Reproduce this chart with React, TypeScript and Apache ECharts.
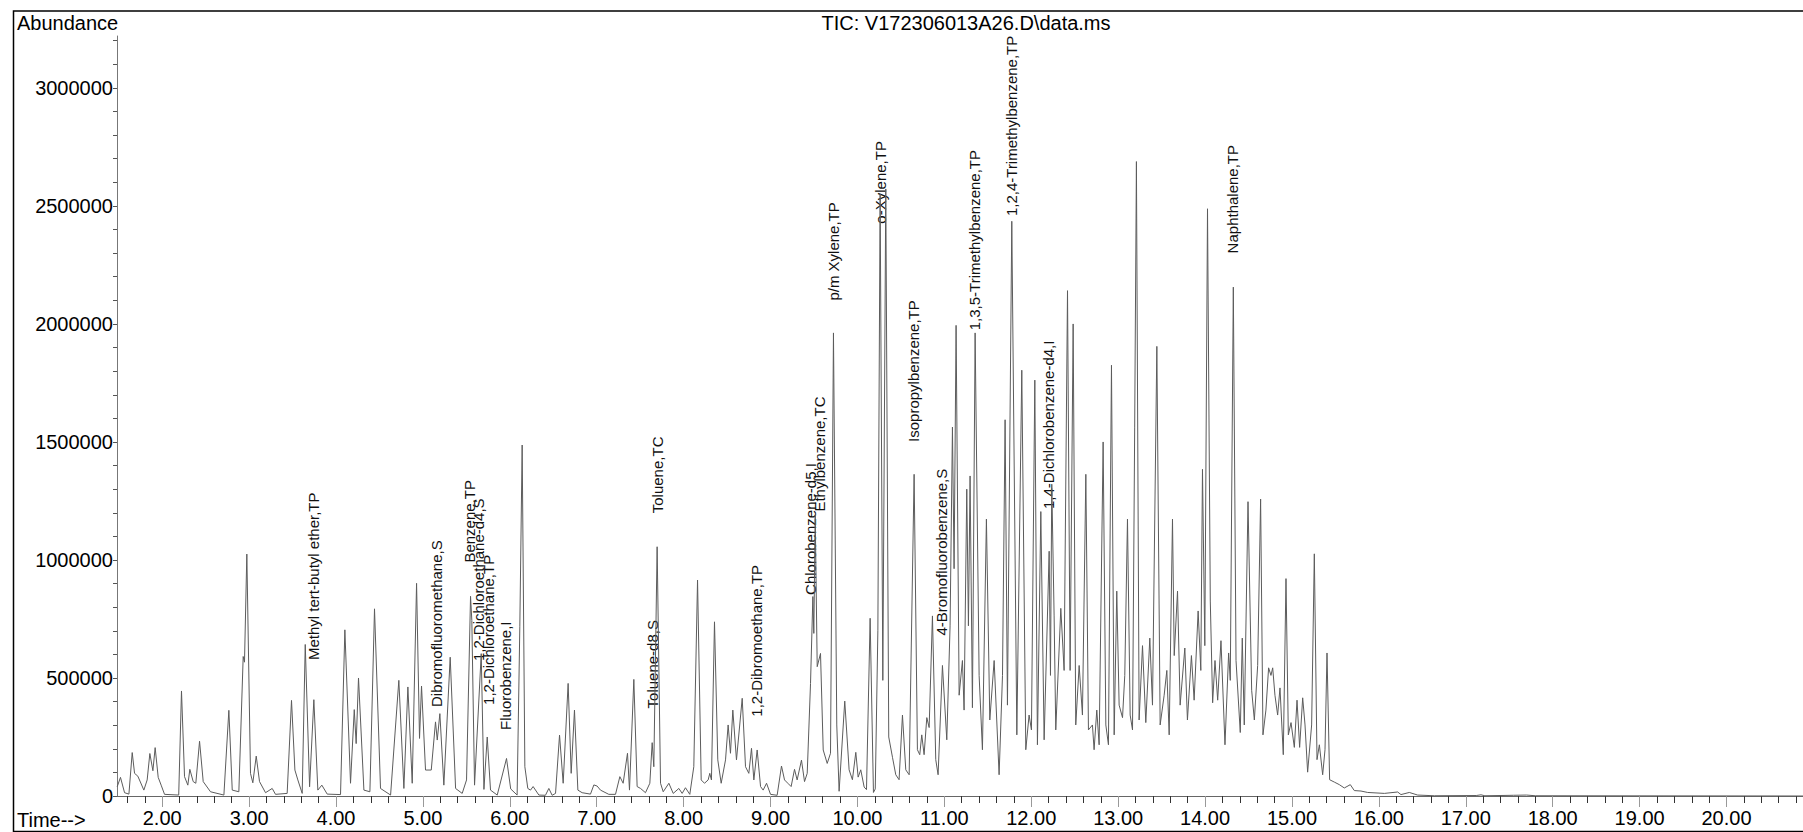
import React, { useEffect, useRef } from "react";
import * as echarts from "echarts";

const FONT = '"Liberation Sans", Arial, Helvetica, sans-serif';

// Total ion chromatogram: [retention time (min), abundance]
const tic_1_5_to_4 = [
  [1.482, 39000], [1.52, 79000], [1.567, 14000], [1.617, 8000], [1.655, 184000], [1.682, 96000],
  [1.72, 84000], [1.789, 25000], [1.827, 68000], [1.858, 180000], [1.893, 107000], [1.919, 205000],
  [1.954, 79000], [1.988, 46000], [2.027, 7000], [2.19, 4000], [2.222, 445000], [2.257, 82000],
  [2.295, 46000], [2.318, 113000], [2.357, 61000], [2.387, 54000], [2.43, 232000], [2.472, 61000],
  [2.556, 18000], [2.71, 4000], [2.767, 363000], [2.806, 25000], [2.882, 18000], [2.932, 591000],
  [2.947, 567000], [2.974, 1025000], [3.016, 96000], [3.043, 56000], [3.082, 169000], [3.12, 61000],
  [3.189, 14000], [3.266, 32000], [3.304, 7000], [3.438, 11000], [3.488, 405000], [3.527, 110000],
  [3.561, 68000], [3.611, 11000], [3.646, 642000], [3.696, 39000], [3.745, 408000], [3.791, 25000],
  [3.837, 46000], [3.899, 8000],
];

const tic_4_to_6 = [
  [4.052, 6000], [4.102, 704000], [4.167, 54000], [4.21, 366000], [4.232, 222000], [4.259, 500000],
  [4.321, 25000], [4.39, 18000], [4.443, 793000], [4.512, 32000], [4.628, 4000], [4.723, 490000],
  [4.781, 32000], [4.827, 462000], [4.877, 54000], [4.927, 901000], [4.961, 244000], [4.984, 466000],
  [5.03, 110000], [5.096, 110000], [5.145, 314000], [5.165, 237000], [5.195, 349000], [5.241, 46000],
  [5.314, 588000], [5.376, 32000], [5.452, 11000], [5.502, 68000], [5.548, 846000], [5.563, 743000],
  [5.594, 46000], [5.671, 603000], [5.702, 28000], [5.74, 250000], [5.778, 25000], [5.855, 4000],
  [5.962, 159000],
];

const tic_6_to_8 = [
  [6.01, 30000], [6.084, 4000], [6.115, 717000], [6.142, 1487000], [6.173, 124000], [6.207, 32000],
  [6.238, 25000], [6.268, 40000], [6.334, 4000], [6.41, 3000], [6.449, 32000], [6.487, 3000],
  [6.526, 11000], [6.572, 258000], [6.614, 54000], [6.671, 477000], [6.706, 96000], [6.744, 364000],
  [6.783, 25000], [6.832, 14000], [6.928, 8000], [6.967, 47000], [7.005, 42000], [7.043, 25000],
  [7.139, 7000], [7.216, 7000], [7.266, 82000], [7.304, 54000], [7.354, 181000], [7.377, 25000],
  [7.427, 494000], [7.465, 40000], [7.504, 32000], [7.561, 14000], [7.611, 54000], [7.638, 226000],
  [7.657, 124000], [7.695, 1056000], [7.734, 54000], [7.765, 18000], [7.83, 54000], [7.88, 11000],
  [7.945, 32000], [7.983, 11000],
];

const tic_8_to_9_7 = [
  [8.021, 35000], [8.071, 7000], [8.117, 124000], [8.16, 915000], [8.202, 68000], [8.24, 54000],
  [8.282, 68000], [8.301, 96000], [8.32, 68000], [8.355, 738000], [8.393, 153000], [8.432, 54000],
  [8.482, 153000], [8.512, 301000], [8.539, 181000], [8.566, 364000], [8.608, 153000], [8.674, 414000],
  [8.712, 124000], [8.75, 96000], [8.781, 202000], [8.808, 68000], [8.846, 195000], [8.885, 40000],
  [8.915, 25000], [8.954, 54000], [9.0, 7000], [9.076, 3000], [9.126, 127000], [9.161, 68000],
  [9.199, 54000], [9.237, 40000], [9.276, 113000], [9.306, 68000], [9.356, 152000], [9.391, 61000],
  [9.422, 96000], [9.46, 477000], [9.487, 845000], [9.498, 689000], [9.514, 1190000], [9.537, 548000],
  [9.575, 604000], [9.606, 195000], [9.652, 138000], [9.69, 181000],
];

const tic_9_7_to_11_5 = [
  [9.724, 1962000], [9.762, 301000], [9.789, 20000], [9.854, 402000], [9.904, 111000], [9.942, 69000],
  [9.981, 185000], [10.008, 80000], [10.038, 111000], [10.077, 38000], [10.104, 27000], [10.146, 753000],
  [10.184, 15000], [10.205, 30000], [10.235, 700000], [10.261, 2551000], [10.292, 490000], [10.326, 2572000],
  [10.36, 250000], [10.403, 164000], [10.441, 90000], [10.479, 69000], [10.518, 343000], [10.556, 111000],
  [10.595, 90000], [10.652, 1363000], [10.69, 196000], [10.717, 175000], [10.74, 259000], [10.767, 175000],
  [10.798, 332000], [10.825, 290000], [10.863, 763000], [10.901, 154000], [10.928, 90000], [10.978, 553000],
  [11.028, 238000], [11.066, 721000], [11.093, 1563000], [11.112, 963000], [11.135, 1994000], [11.17, 427000],
  [11.208, 574000], [11.227, 364000], [11.258, 1300000], [11.277, 721000], [11.296, 1356000], [11.323, 374000],
  [11.354, 1962000], [11.4, 511000], [11.438, 196000], [11.484, 1173000],
];

const tic_11_5_to_13_5 = [
  [11.523, 322000], [11.573, 574000], [11.63, 90000], [11.669, 511000], [11.699, 1594000], [11.726, 385000],
  [11.776, 2435000], [11.834, 259000], [11.891, 1804000], [11.937, 196000], [11.975, 343000], [12.002, 280000],
  [12.041, 1762000], [12.071, 217000], [12.11, 1205000], [12.148, 238000], [12.206, 1037000], [12.221, 511000],
  [12.236, 1321000], [12.263, 763000], [12.282, 280000], [12.34, 795000], [12.378, 532000], [12.417, 2141000],
  [12.447, 532000], [12.482, 2000000], [12.512, 301000], [12.551, 553000], [12.589, 343000], [12.628, 1363000],
  [12.658, 280000], [12.704, 301000], [12.723, 196000], [12.754, 364000], [12.781, 217000], [12.827, 1500000],
  [12.858, 301000], [12.888, 217000], [12.923, 1825000], [12.954, 259000], [12.984, 868000], [13.011, 385000],
  [13.05, 332000], [13.076, 511000], [13.107, 1173000], [13.138, 343000], [13.165, 280000], [13.19, 1563000],
  [13.21, 2688000], [13.241, 322000], [13.28, 637000], [13.318, 311000], [13.364, 669000], [13.395, 385000],
  [13.445, 1905000], [13.483, 301000],
];

const tic_13_5_to_15_5 = [
  [13.529, 427000], [13.56, 532000], [13.587, 259000], [13.625, 1173000], [13.645, 595000], [13.683, 868000],
  [13.713, 385000], [13.767, 627000], [13.797, 322000], [13.843, 595000], [13.874, 406000], [13.92, 784000],
  [13.951, 532000], [13.97, 1384000], [13.997, 637000], [14.028, 2488000], [14.06, 826000], [14.087, 395000],
  [14.114, 574000], [14.145, 406000], [14.183, 658000], [14.229, 217000], [14.271, 606000], [14.29, 490000],
  [14.325, 2156000], [14.356, 574000], [14.405, 269000], [14.428, 669000], [14.451, 301000], [14.494, 1247000],
  [14.536, 448000], [14.567, 322000], [14.605, 553000], [14.639, 1258000], [14.666, 259000], [14.7, 364000],
  [14.731, 543000], [14.758, 511000], [14.778, 543000], [14.804, 427000], [14.835, 343000], [14.862, 458000],
  [14.9, 175000], [14.931, 921000], [14.958, 259000], [14.989, 311000], [15.027, 206000], [15.058, 406000],
  [15.088, 206000], [15.123, 416000], [15.15, 301000], [15.18, 101000], [15.226, 301000], [15.257, 1026000],
  [15.288, 154000], [15.315, 217000], [15.353, 90000], [15.38, 196000], [15.403, 606000], [15.433, 69000],
];

const tic_tail = [
  [15.487, 59000], [15.545, 48000], [15.602, 34000], [15.671, 48000], [15.717, 23000], [15.794, 21000],
  [15.871, 15000], [16.063, 11000], [16.216, 17000], [16.254, 6000], [16.35, 15000], [16.446, 4000],
  [16.638, 1000], [17.12, 2000], [17.175, 5000], [17.22, 1000], [17.55, 3000], [17.7, 4000],
  [17.8, 1000], [20.88, 0],
];

// Peak annotations: compound name, retention time, abundance at the label's start
const annotationNames = [
  "Methyl tert-butyl ether,TP", "Dibromofluoromethane,S", "Benzene,TP", "1,2-Dichloroethane-d4,S",
  "1,2-Dichloroethane,TP", "Fluorobenzene,I", "Toluene-d8,S", "Toluene,TC", "1,2-Dibromoethane,TP",
  "Chlorobenzene-d5,I", "Ethylbenzene,TC", "p/m Xylene,TP", "o-Xylene,TP", "Isopropylbenzene,TP",
  "4-Bromofluorobenzene,S", "1,3,5-Trimethylbenzene,TP", "1,2,4-Trimethylbenzene,TP",
  "1,4-Dichlorobenzene-d4,I", "Naphthalene,TP",
];
const annotationTimes = [
  3.745, 5.16, 5.54, 5.64, 5.75, 5.95, 7.638, 7.696, 8.839, 9.46, 9.567, 9.728, 10.266, 10.649,
  10.968, 11.348, 11.773, 12.195, 14.32,
];
const annotationAbundances = [
  576000, 377000, 989000, 572000, 386000, 280000, 371000, 1198000, 336000, 852000, 1205000,
  2099000, 2425000, 1500000, 680000, 1973000, 2457000, 1216000, 2299000,
];

// Axis ticks and labels
const timeLabels = [2, 3, 4, 5, 6, 7, 8, 9, 10, 11, 12, 13, 14, 15, 16, 17, 18, 19, 20];
const abundanceLabels = [0, 500000, 1000000, 1500000, 2000000, 2500000, 3000000];
const TIME_MIN = 1.48;
const TIME_MAX = 20.88;
const ABUNDANCE_MAX = 3220000;
const TIME_MINOR_STEP = 0.2;
const ABUNDANCE_MINOR_STEP = 100000;

export default function App() {
  const ref = useRef<HTMLDivElement>(null);

  useEffect(() => {
    if (!ref.current) return;
    const chart = echarts.init(ref.current, null, { renderer: "svg" });

    const points = [
      ...tic_1_5_to_4, ...tic_4_to_6, ...tic_6_to_8, ...tic_8_to_9_7,
      ...tic_9_7_to_11_5, ...tic_11_5_to_13_5, ...tic_13_5_to_15_5, ...tic_tail,
    ];

    const timeMinorTicks: number[] = [];
    for (let i = Math.ceil(TIME_MIN / TIME_MINOR_STEP); i * TIME_MINOR_STEP <= TIME_MAX; i++) {
      timeMinorTicks.push(Math.round(i * TIME_MINOR_STEP * 10) / 10);
    }
    const abundanceTicks: number[] = [];
    for (let v = 0; v <= ABUNDANCE_MAX; v += ABUNDANCE_MINOR_STEP) abundanceTicks.push(v);

    const staticGraphics: any[] = [
      {
        type: "rect",
        shape: { x: 13.5, y: 11, width: 1800, height: 820.5 },
        style: { fill: "none", stroke: "#000", lineWidth: 1.5 },
        silent: true,
      },
      {
        type: "text", x: 17, y: 23,
        style: { text: "Abundance", font: `20px ${FONT}`, fill: "#000", align: "left", verticalAlign: "middle" },
      },
      {
        type: "text", x: 966, y: 23,
        style: { text: "TIC: V172306013A26.D\\data.ms", font: `20px ${FONT}`, fill: "#000", align: "center", verticalAlign: "middle" },
      },
      {
        type: "text", x: 17, y: 820,
        style: { text: "Time-->", font: `20px ${FONT}`, fill: "#000", align: "left", verticalAlign: "middle" },
      },
    ];

    const option: any = {
      animation: false,
      backgroundColor: "#ffffff",
      grid: { left: 117, right: 0, top: 36, bottom: 36, containLabel: false },
      xAxis: [
        {
          type: "value",
          min: TIME_MIN,
          max: TIME_MAX,
          position: "bottom",
          axisLine: { show: true, onZero: false, lineStyle: { color: "#666", width: 1 } },
          axisTick: { show: true, length: 7, customValues: timeMinorTicks, lineStyle: { color: "#333", width: 1 } },
          axisLabel: {
            show: true,
            customValues: timeLabels,
            formatter: (v: number) => v.toFixed(2),
            margin: 12,
            fontSize: 20,
            fontFamily: FONT,
            color: "#000",
          },
          splitLine: { show: false },
        },
        {
          type: "value",
          min: TIME_MIN,
          max: TIME_MAX,
          position: "bottom",
          axisLine: { show: false },
          axisTick: { show: true, length: 11, customValues: timeLabels, lineStyle: { color: "#999", width: 1 } },
          axisLabel: { show: false },
          splitLine: { show: false },
        },
      ],
      yAxis: {
        type: "value",
        min: 0,
        max: ABUNDANCE_MAX,
        axisLine: { show: true, lineStyle: { color: "#777", width: 1 } },
        axisTick: { show: true, length: 4, customValues: abundanceTicks, lineStyle: { color: "#555", width: 1 } },
        axisLabel: {
          show: true,
          customValues: abundanceLabels,
          formatter: (v: number) => String(v),
          margin: 4,
          fontSize: 20,
          fontFamily: FONT,
          color: "#000",
        },
        splitLine: { show: false },
      },
      series: [
        {
          type: "line",
          xAxisIndex: 0,
          yAxisIndex: 0,
          data: points,
          showSymbol: false,
          symbol: "none",
          lineStyle: { color: "#5c5c5c", width: 1 },
          silent: true,
        },
      ],
      graphic: { elements: staticGraphics },
    };

    chart.setOption(option);

    const labelGraphics = annotationNames.map((name, i) => {
      const p = chart.convertToPixel({ seriesIndex: 0 }, [annotationTimes[i], annotationAbundances[i]]) as number[];
      return {
        type: "text",
        x: p[0],
        y: p[1],
        rotation: Math.PI / 2,
        style: { text: name, font: `15px ${FONT}`, fill: "#111", align: "left", verticalAlign: "middle" },
        silent: true,
      };
    });

    chart.setOption({ graphic: { elements: [...staticGraphics, ...labelGraphics] } });

    return () => chart.dispose();
  }, []);

  return (
    <div
      ref={ref}
      style={{ position: "fixed", left: 0, top: 0, width: 1803, height: 832, background: "#fff" }}
    />
  );
}
